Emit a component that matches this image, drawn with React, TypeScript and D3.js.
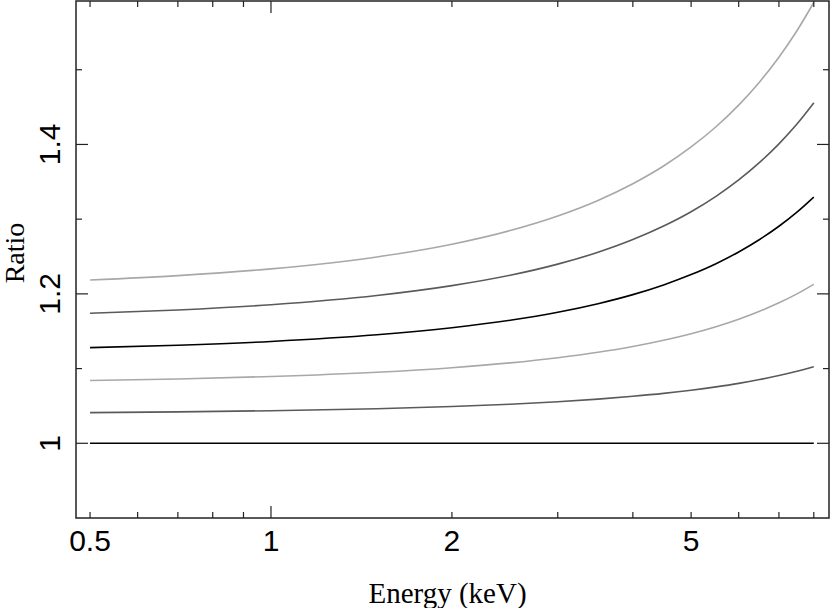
import React from "react";
import * as d3 from "d3";

const energies = [0.5, 0.7, 1, 1.5, 2, 2.5, 3, 3.5, 4, 4.5, 5, 5.5, 6, 6.5, 7, 7.5, 8];
const ratioA = [1.2185, 1.2244, 1.2335, 1.2494, 1.2665, 1.2848, 1.3043, 1.3251, 1.3474, 1.3711, 1.3966, 1.4237, 1.4527, 1.4837, 1.5168, 1.5522, 1.59];
const ratioB = [1.174, 1.1785, 1.1855, 1.1978, 1.211, 1.2249, 1.2398, 1.2557, 1.2727, 1.2908, 1.31, 1.3306, 1.3525, 1.3759, 1.4008, 1.4274, 1.4557];
const ratioC = [1.128, 1.1313, 1.1363, 1.1452, 1.1547, 1.1647, 1.1754, 1.1869, 1.199, 1.212, 1.2258, 1.2404, 1.2561, 1.2728, 1.2905, 1.3094, 1.3296];
const ratioD = [1.084, 1.0861, 1.0894, 1.0951, 1.1012, 1.1076, 1.1145, 1.1218, 1.1296, 1.1379, 1.1467, 1.1561, 1.1661, 1.1767, 1.188, 1.2, 1.2128];
const ratioE = [1.041, 1.042, 1.0436, 1.0463, 1.0492, 1.0523, 1.0556, 1.0591, 1.0629, 1.0668, 1.071, 1.0755, 1.0802, 1.0853, 1.0907, 1.0964, 1.1024];
const ratioF = [1, 1, 1, 1, 1, 1, 1, 1, 1, 1, 1, 1, 1, 1, 1, 1, 1];

const seriesColors = ["#a8a8a8", "#5a5a5a", "#000000", "#a8a8a8", "#5a5a5a", "#000000"];

const xTickLabels = [0.5, 1, 2, 5];
const xMinorTicks = [0.5, 0.6, 0.7, 0.8, 0.9, 2, 3, 4, 5, 6, 7, 8];
const xMajorTicks = [1];
const yTickLabels = [1, 1.2, 1.4];
const yMinorTicks = [1.1, 1.3, 1.5];

const W = 830;
const H = 608;
const L = 76, R = 829, T = 1, B = 518;

export default function App() {
  const x = d3.scaleLog().domain([0.4738, 8.48]).range([L, R]);
  const y = d3.scaleLinear().domain([0.9, 1.592]).range([B, T]);
  const series = [ratioA, ratioB, ratioC, ratioD, ratioE, ratioF];
  const line = d3
    .line<[number, number]>()
    .x((d) => x(d[0]))
    .y((d) => y(d[1]))
    .curve(d3.curveMonotoneX);

  const axisColor = "#222";
  return (
    <svg width={W} height={H} style={{ position: "absolute", left: 0, top: 0, background: "#fff" }}>
      <defs>
        <clipPath id="plot">
          <rect x={L} y={T} width={R - L} height={B - T} />
        </clipPath>
      </defs>
      <g clipPath="url(#plot)">
        {series.map((s, i) => (
          <path
            key={i}
            d={line(energies.map((e, j) => [e, s[j]] as [number, number])) || ""}
            fill="none"
            stroke={seriesColors[i]}
            strokeWidth={1.6}
          />
        ))}
      </g>
      <rect x={L} y={T} width={R - L} height={B - T} fill="none" stroke={axisColor} strokeWidth={1.5} />
      {xMinorTicks.map((t) => (
        <g key={"xm" + t}>
          <line x1={x(t)} x2={x(t)} y1={B} y2={B - 6} stroke={axisColor} strokeWidth={1.2} />
          <line x1={x(t)} x2={x(t)} y1={T} y2={T + 6} stroke={axisColor} strokeWidth={1.2} />
        </g>
      ))}
      {xMajorTicks.map((t) => (
        <g key={"xM" + t}>
          <line x1={x(t)} x2={x(t)} y1={B} y2={B - 12} stroke={axisColor} strokeWidth={1.2} />
          <line x1={x(t)} x2={x(t)} y1={T} y2={T + 12} stroke={axisColor} strokeWidth={1.2} />
        </g>
      ))}
      {xTickLabels.map((t) => (
        <text
          key={"xl" + t}
          x={x(t)}
          y={551}
          textAnchor="middle"
          fontFamily="'Liberation Sans', Arial, sans-serif"
          fontSize={30}
          fill="#000"
        >
          {String(t)}
        </text>
      ))}
      {yTickLabels.map((t) => (
        <g key={"yM" + t}>
          <line x1={L} x2={L + 12} y1={y(t)} y2={y(t)} stroke={axisColor} strokeWidth={1.2} />
          <line x1={R} x2={R - 12} y1={y(t)} y2={y(t)} stroke={axisColor} strokeWidth={1.2} />
        </g>
      ))}
      {yMinorTicks.map((t) => (
        <g key={"ym" + t}>
          <line x1={L} x2={L + 6} y1={y(t)} y2={y(t)} stroke={axisColor} strokeWidth={1.2} />
          <line x1={R} x2={R - 6} y1={y(t)} y2={y(t)} stroke={axisColor} strokeWidth={1.2} />
        </g>
      ))}
      {yTickLabels.map((t) => (
        <text
          key={"yl" + t}
          transform={`translate(60, ${y(t)}) rotate(-90)`}
          textAnchor="middle"
          fontFamily="'Liberation Sans', Arial, sans-serif"
          fontSize={30}
          fill="#000"
        >
          {String(t)}
        </text>
      ))}
      <text
        x={447.5}
        y={603}
        textAnchor="middle"
        fontFamily="'Liberation Serif', 'Times New Roman', serif"
        fontSize={29}
        fill="#000"
      >
        Energy (keV)
      </text>
      <text
        transform="translate(24, 253) rotate(-90)"
        textAnchor="middle"
        fontFamily="'Liberation Serif', 'Times New Roman', serif"
        fontSize={28}
        fill="#000"
      >
        Ratio
      </text>
    </svg>
  );
}
